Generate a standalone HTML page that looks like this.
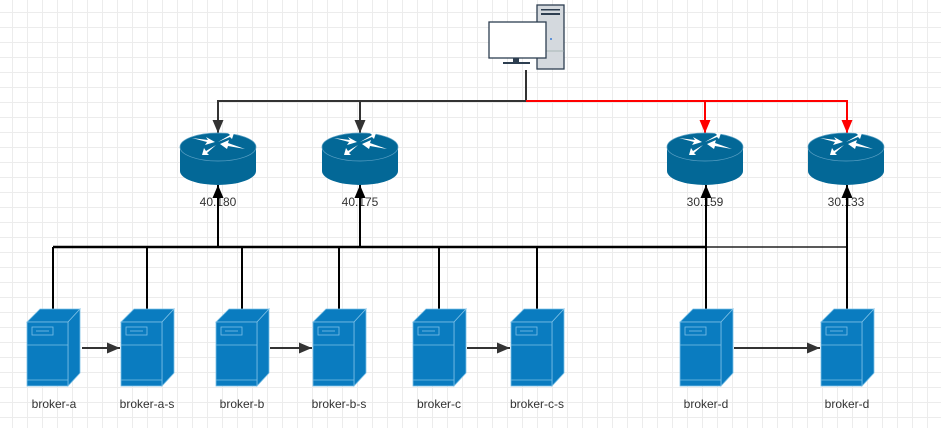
<!DOCTYPE html>
<html><head><meta charset="utf-8"><style>
html,body{margin:0;padding:0;background:#fff;}
body{width:941px;height:428px;overflow:hidden;
background-image:linear-gradient(#ececec 1px,transparent 1px),linear-gradient(90deg,#ececec 1px,transparent 1px);
background-size:15px 15px;background-position:-3px -3px;}
svg{position:absolute;left:0;top:0;}
text{font-family:"Liberation Sans",sans-serif;font-size:12px;fill:#333;}
</style></head><body>
<svg width="941" height="428" viewBox="0 0 941 428">
<defs>
<marker id="ab" markerWidth="12" markerHeight="14" refX="13" refY="5.5" orient="auto" markerUnits="userSpaceOnUse"><path d="M0,0 L13,5.5 L0,11 Z" fill="#333"/></marker>
<marker id="ak" markerWidth="12" markerHeight="14" refX="13" refY="5.5" orient="auto" markerUnits="userSpaceOnUse"><path d="M0,0 L13,5.5 L0,11 Z" fill="#000"/></marker>
<marker id="ar" markerWidth="12" markerHeight="14" refX="13" refY="5.5" orient="auto" markerUnits="userSpaceOnUse"><path d="M0,0 L13,5.5 L0,11 Z" fill="#f00"/></marker>
<g id="router">
<path d="M-38,14 L-38,38 A38,14 0 0 0 38,38 L38,14 Z" fill="#036897"/>
<ellipse cx="0" cy="14" rx="38" ry="14" fill="#036897" stroke="#5aa0c4" stroke-width="0.7"/>
<path d="M-26,5 L-10,7 L-12,4 L-3,9 L-13,12 L-11,9 Z" fill="#fff"/>
<path d="M0,7 L12,0 L10,-2 L16,-2 L14,4 L12,2 Z" fill="#fff" transform="translate(0,2)"/>
<path d="M24,17 L7,11 L8,8 L-1,12 L6,17 L7,14 Z" fill="#fff" transform="translate(3,-1)"/>
<path d="M-2,14 L-12,20 L-14,17 L-16,24 L-9,24 L-11,22 Z" fill="#fff" transform="translate(0,-2)"/>
</g>
<g id="server">
<path d="M0,13 L13,0 L53,0 L41,13 Z" fill="#0a7cc0" stroke="#7cc0e6" stroke-width="0.8"/>
<path d="M41,13 L53,0 L53,64 L41,77 Z" fill="#0a7cc0" stroke="#7cc0e6" stroke-width="0.8"/>
<rect x="0" y="13" width="41" height="64" fill="#0a7cc0" stroke="#7cc0e6" stroke-width="0.8"/>
<rect x="5" y="18" width="21" height="8" fill="none" stroke="#7cc0e6" stroke-width="0.8"/>
<line x1="9" y1="22" x2="22" y2="22" stroke="#7cc0e6" stroke-width="0.8"/>
<line x1="0" y1="36" x2="41" y2="36" stroke="#7cc0e6" stroke-width="0.8"/>
<line x1="0" y1="71" x2="41" y2="71" stroke="#7cc0e6" stroke-width="0.8"/>
</g>
</defs>

<!-- computer -->
<rect x="537" y="5" width="27" height="64" fill="#d4d9de" stroke="#2d3e50" stroke-width="1.3"/>
<rect x="541" y="9" width="19" height="1.5" fill="#2d3e50"/>
<rect x="541" y="13" width="19" height="2" fill="#2d3e50"/>
<line x1="537" y1="51" x2="564" y2="51" stroke="#9aa" stroke-width="0.7"/>
<circle cx="551" cy="39" r="1" fill="#3a7bd5"/>
<rect x="489" y="22" width="57" height="36" fill="#fff" stroke="#2d3e50" stroke-width="1.3"/>
<rect x="513" y="58" width="6" height="4" fill="#2d3e50"/>
<rect x="503" y="62" width="27" height="2" fill="#2d3e50"/>

<!-- top connectors -->
<path d="M526,70 L526,101 L218,101 L218,133" fill="none" stroke="#333" stroke-width="2" marker-end="url(#ab)"/>
<path d="M360,101 L360,133" fill="none" stroke="#333" stroke-width="2" marker-end="url(#ab)"/>
<path d="M526,101 L847,101 L847,133" fill="none" stroke="#f00" stroke-width="2" marker-end="url(#ar)"/>
<path d="M705,101 L705,133" fill="none" stroke="#f00" stroke-width="2" marker-end="url(#ar)"/>

<!-- routers -->
<use href="#router" x="218" y="133"/>
<use href="#router" x="360" y="133"/>
<use href="#router" x="705" y="133"/>
<use href="#router" x="846" y="133"/>
<text x="218" y="206" text-anchor="middle">40.180</text>
<text x="360" y="206" text-anchor="middle">40.175</text>
<text x="705" y="206" text-anchor="middle">30.159</text>
<text x="846" y="206" text-anchor="middle">30.133</text>

<!-- bus -->
<line x1="53" y1="247" x2="706" y2="247" stroke="#000" stroke-width="2.5"/>
<line x1="705" y1="247" x2="847" y2="247" stroke="#222" stroke-width="1.5"/>
<g stroke="#000" stroke-width="2">
<line x1="53" y1="247" x2="53" y2="309"/>
<line x1="147" y1="247" x2="147" y2="309"/>
<line x1="242" y1="247" x2="242" y2="309"/>
<line x1="339" y1="247" x2="339" y2="309"/>
<line x1="439" y1="247" x2="439" y2="309"/>
<line x1="537" y1="247" x2="537" y2="309"/>
<line x1="706" y1="309" x2="706" y2="185" marker-end="url(#ak)"/>
<line x1="847" y1="309" x2="847" y2="185" marker-end="url(#ak)"/>
<line x1="218" y1="247" x2="218" y2="185" marker-end="url(#ak)"/>
<line x1="360" y1="247" x2="360" y2="185" marker-end="url(#ak)"/>
</g>

<!-- servers -->
<use href="#server" x="27" y="309"/>
<use href="#server" x="121" y="309"/>
<use href="#server" x="216" y="309"/>
<use href="#server" x="313" y="309"/>
<use href="#server" x="413" y="309"/>
<use href="#server" x="511" y="309"/>
<use href="#server" x="680" y="309"/>
<use href="#server" x="821" y="309"/>

<g stroke="#333" stroke-width="2" marker-end="url(#ab)">
<line x1="82" y1="348" x2="120" y2="348"/>
<line x1="270" y1="348" x2="312" y2="348"/>
<line x1="467" y1="348" x2="510" y2="348"/>
<line x1="734" y1="348" x2="820" y2="348"/>
</g>

<g font-size="13">
<text x="54" y="408" text-anchor="middle">broker-a</text>
<text x="147" y="408" text-anchor="middle">broker-a-s</text>
<text x="242" y="408" text-anchor="middle">broker-b</text>
<text x="339" y="408" text-anchor="middle">broker-b-s</text>
<text x="439" y="408" text-anchor="middle">broker-c</text>
<text x="537" y="408" text-anchor="middle">broker-c-s</text>
<text x="706" y="408" text-anchor="middle">broker-d</text>
<text x="847" y="408" text-anchor="middle">broker-d</text>
</g>
</svg>
</body></html>
